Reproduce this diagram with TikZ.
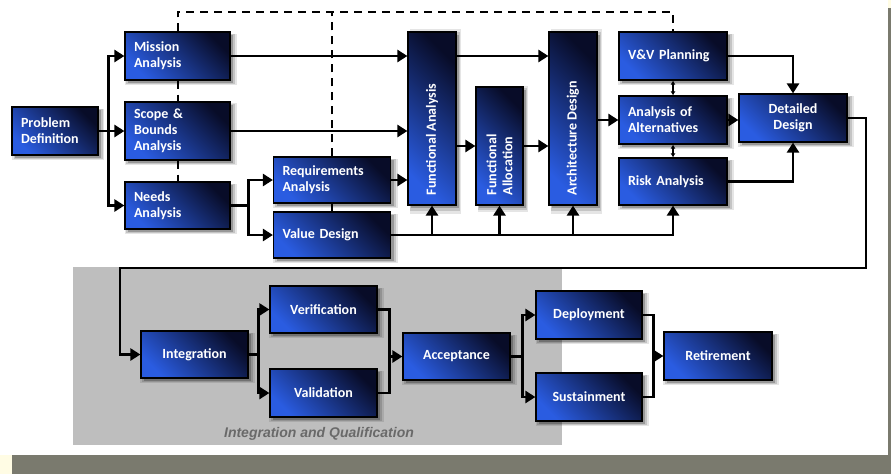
\documentclass[tikz,border=0pt]{standalone}
\usepackage{fontspec}
\setmainfont{Carlito}
\newfontfamily\capfont{Liberation Sans}
\usetikzlibrary{arrows.meta,shadows,calc}
\definecolor{boxlight}{RGB}{42,92,225}
\definecolor{boxdark}{RGB}{8,12,40}
\definecolor{framegray}{RGB}{122,122,110}
\definecolor{panelgray}{RGB}{190,190,190}
\definecolor{paleyellow}{RGB}{255,252,228}
\definecolor{captext}{RGB}{105,105,105}
\begin{document}
\begin{tikzpicture}[x=1pt,y=-1pt,
  boxfont/.style={font=\bfseries\fontsize{14}{16}\selectfont},
  shad/.style={
    general shadow={fill=black,opacity=.10,shadow xshift=3pt,shadow yshift=-3pt,shadow scale=1.07},
    general shadow={fill=black,opacity=.14,shadow xshift=3pt,shadow yshift=-3pt,shadow scale=1.035},
    general shadow={fill=black,opacity=.22,shadow xshift=3pt,shadow yshift=-3pt}},
  box/.style={shad, draw=black, line width=1.2pt, top color=boxdark, bottom color=boxlight,
    shading angle=-45, text=white, boxfont, inner xsep=9pt, inner ysep=2pt},
  lbox/.style={box, align=left},
  cbox/.style={box, align=center},
  vtext/.style={text=white, boxfont, rotate=90, anchor=west, inner sep=0pt, align=left},
  conn/.style={line width=2.6pt},
  junc/.style={line width=2.6pt, line cap=rect},
  arr/.style={conn, -{Triangle[length=10pt,width=12pt]}},
  dashline/.style={line width=2pt, dash pattern=on 8pt off 6pt},
  dbl/.style={line width=1.5pt, {Latex[length=4pt,width=5pt]}-{Latex[length=4pt,width=5pt]}}
  ]
\useasboundingbox (0,0) rectangle (891,474);
\fill[white] (0,0) rectangle (888,455);
\fill[framegray] (888,8) rectangle (891,474);
\fill[framegray] (12,455) rectangle (891,474);
\fill[paleyellow] (0,455) rectangle (12,474);
\fill[paleyellow] (888,0) rectangle (891,8);
\fill[panelgray] (73,267) rectangle (562,445);

% top row
\node[lbox, minimum width=86pt, minimum height=48pt, text width=68pt] (pd) at (55,131) {Problem\\Definition};
\node[lbox, minimum width=105pt, minimum height=48pt, text width=87pt] (mis) at (177.5,56) {Mission\\Analysis};
\node[lbox, minimum width=105pt, minimum height=58pt, text width=87pt] (scope) at (177.5,131) {Scope \&\\Bounds\\Analysis};
\node[lbox, minimum width=105pt, minimum height=47pt, text width=87pt] (needs) at (177.5,205.5) {Needs\\Analysis};
\node[lbox, minimum width=117pt, minimum height=46pt, text width=99pt] (req) at (332,180) {Requirements\\Analysis};
\node[lbox, minimum width=117pt, minimum height=46pt, text width=99pt] (val) at (332,235) {Value Design};
\node[box, minimum width=48pt, minimum height=173pt] (fa) at (432,118.5) {};
\node[vtext] (fat) at ([yshift=10pt]fa.south) {Functional Analysis};
\node[box, minimum width=47pt, minimum height=118pt] (falloc) at (499.5,146) {};
\node[vtext] (fallt) at ([yshift=10pt]falloc.south) {Functional\\Allocation};
\node[box, minimum width=48pt, minimum height=173pt] (arch) at (573,118.5) {};
\node[vtext] (archt) at ([yshift=10pt]arch.south) {Architecture Design};
\node[lbox, minimum width=108pt, minimum height=48pt, text width=90pt] (vv) at (673,56) {V\&V Planning};
\node[lbox, minimum width=108pt, minimum height=48pt, text width=90pt] (aoa) at (673,120) {Analysis of\\Alternatives};
\node[lbox, minimum width=108pt, minimum height=47pt, text width=90pt] (risk) at (673,181.5) {Risk Analysis};
\node[cbox, minimum width=108pt, minimum height=48pt, text width=90pt] (dd) at (793,118) {Detailed\\Design};

% bottom row
\node[cbox, minimum width=107pt, minimum height=47pt] (integ) at (194.5,354.5) {Integration};
\node[cbox, minimum width=107pt, minimum height=47pt] (ver) at (323.5,309.5) {Verification};
\node[cbox, minimum width=107pt, minimum height=48pt] (vali) at (323.5,393) {Validation};
\node[cbox, minimum width=107pt, minimum height=47pt] (acc) at (456.5,356.5) {Acceptance};
\node[cbox, minimum width=106pt, minimum height=48pt] (dep) at (589,315) {Deployment};
\node[cbox, minimum width=106pt, minimum height=48pt] (sus) at (589,397) {Sustainment};
\node[cbox, minimum width=108pt, minimum height=48pt] (ret) at (718,356) {Retirement};
\node[font=\capfont\bfseries\itshape\fontsize{14}{16}\selectfont, text=captext] (cap) at (319,434) {Integration and Qualification};

% connectors
\coordinate (pdb) at ($(pd.east)+(10,0)$);
\draw[junc] (pd.east) -- (pdb);
\draw[arr] (pdb) |- (mis.west);
\draw[arr] (pdb) -- (scope.west);
\draw[arr] (pdb) |- (needs.west);
\draw[arr] (mis.east) -- (mis.east -| fa.west);
\draw[arr] (scope.east) -- (scope.east -| fa.west);
\coordinate (nb) at ($(needs.east)+(18,0)$);
\draw[junc] (needs.east) -- (nb);
\draw[arr] (nb) |- (req.west);
\draw[arr] (nb) |- (val.west);
\draw[arr] (req.east) -- (req.east -| fa.west);
\draw[arr] (val.east) -| (risk.south);
\draw[arr] (fa.south |- val.east) -- (fa.south);
\draw[arr] (falloc.south |- val.east) -- (falloc.south);
\draw[arr] (arch.south |- val.east) -- (arch.south);
\draw[arr] (fa.east |- mis.east) -- (arch.west |- mis.east);
\draw[arr] (fa.east |- falloc.west) -- (falloc.west);
\draw[arr] (falloc.east) -- (arch.west |- falloc.east);
\draw[arr] (arch.east |- aoa.west) -- (aoa.west);
\draw[arr] (aoa.east) -- (aoa.east -| dd.west);
\draw[arr] (vv.east) -| (dd.north);
\draw[arr] (risk.east) -| (dd.south);
\draw[dbl] (vv.south) -- (aoa.north);
\draw[dbl] (aoa.south) -- (risk.north);
\draw[dashline] (mis.north) -- (mis.north |- 0,12) -| (vv.north);
\draw[dashline] (req.north) -- (req.north |- 0,12);
\draw[dashline] (mis.south) -- (scope.north);
\draw[dashline] (scope.south) -- (needs.north);
\draw[line width=2pt] (req.south) -- (req.south |- val.north);
\coordinate (lr) at (866,268);
\coordinate (ll) at (120,268);
\draw[arr] (dd.east) -| (lr) -- (ll) |- (integ.west);
\coordinate (ib) at ($(integ.east)+(10,0)$);
\draw[junc] (integ.east) -- (ib);
\draw[arr] (ib) |- (ver.west);
\draw[arr] (ib) |- (vali.west);
\coordinate (vb) at ($(acc.west)+(-13,0)$);
\draw[junc] (ver.east) -| (vb);
\draw[junc] (vali.east) -| (vb);
\draw[arr] (vb) -- (acc.west);
\coordinate (ab) at ($(acc.east)+(12,0)$);
\draw[junc] (acc.east) -- (ab);
\draw[arr] (ab) |- (dep.west);
\draw[arr] (ab) |- (sus.west);
\coordinate (db) at ($(ret.west)+(-10,0)$);
\draw[junc] (dep.east) -| (db);
\draw[junc] (sus.east) -| (db);
\draw[arr] (db) -- (ret.west);
\end{tikzpicture}
\end{document}
